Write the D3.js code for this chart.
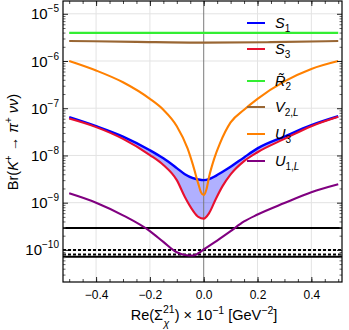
<!DOCTYPE html>
<html>
<head>
<meta charset="utf-8">
<script src="https://cdn.jsdelivr.net/npm/d3@7"></script>
<style>
  body { margin: 0; background: #fff; }
  text { font-family: "Liberation Sans", Arial, sans-serif; fill: #000; }
</style>
</head>
<body>
<svg id="chart" width="349" height="330"></svg>
<script>
// ---- data ----
// S1 and S3 share one x grid (needed for the filled band between them)
const xS   = [-0.5, -0.4, -0.3, -0.2, -0.15, -0.1, -0.07, -0.04, -0.02, 0, 0.02, 0.045, 0.07, 0.1, 0.15, 0.2, 0.3, 0.4, 0.5];
const brS1 = [6.46e-8, 4.17e-8, 2.51e-8, 1.29e-8, 8.7e-9, 5.4e-9, 4.0e-9, 3.3e-9, 3.1e-9, 3.0e-9, 3.15e-9, 3.7e-9, 4.5e-9, 5.75e-9, 9.1e-9, 1.41e-8, 2.51e-8, 4.37e-8, 6.76e-8];
const brS3 = [6.03e-8, 3.98e-8, 2.24e-8, 1.02e-8, 6.3e-9, 3.0e-9, 1.32e-9, 6.8e-10, 5.0e-10, 4.6e-10, 6.0e-10, 1.2e-9, 2.24e-9, 3.98e-9, 7.6e-9, 1.17e-8, 2.24e-8, 4.17e-8, 6.6e-8];

const xR2  = [-0.5, 0.5];
const brR2 = [3.95e-6, 3.95e-6];

const xV2L  = [-0.5, -0.25, 0, 0.25, 0.5];
const brV2L = [2.66e-6, 2.54e-6, 2.45e-6, 2.51e-6, 2.66e-6];

const xU3  = [-0.5, -0.4, -0.3, -0.2, -0.15, -0.1, -0.06, -0.04, -0.02, -0.01, 0, 0.01, 0.02, 0.04, 0.06, 0.1, 0.15, 0.2, 0.3, 0.4, 0.5];
const brU3 = [1.0e-6, 6.3e-7, 3.55e-7, 1.58e-7, 9.3e-8, 4.17e-8, 1.41e-8, 6.3e-9, 2.5e-9, 1.66e-9, 1.45e-9, 1.9e-9, 3.55e-9, 8.9e-9, 1.78e-8, 5.0e-8, 9.3e-8, 1.58e-7, 3.7e-7, 6.8e-7, 1.0e-6];

const xU1L  = [-0.5, -0.4, -0.3, -0.2, -0.15, -0.1, -0.07, -0.04, -0.02, 0, 0.05, 0.1, 0.15, 0.2, 0.3, 0.4, 0.5];
const brU1L = [1.58e-9, 1.0e-9, 5.4e-10, 2.5e-10, 1.48e-10, 8.9e-11, 7.8e-11, 7.6e-11, 8.5e-11, 1.02e-10, 1.58e-10, 2.5e-10, 4.0e-10, 5.6e-10, 9.8e-10, 1.66e-9, 2.45e-9];

// horizontal reference levels (black lines)
const refLevels = [2.9e-10, 1.0e-10, 8.0e-11, 7.2e-11];

const xTickVals = [-0.4, -0.2, 0, 0.2, 0.4];
const yDecades  = [-5, -6, -7, -8, -9, -10];

// legend: [letter, subscript]
const legendLabels = [["S", "1"], ["S", "3"], ["R\u0303", "2"], ["V", "2,L"], ["U", "3"], ["U", "1,L"]];

// ---- layout ----
const svg = d3.select("#chart");
const L = 63, R = 342, T = 1, B = 282;

const x = d3.scaleLinear().domain([-0.523, 0.514]).range([L, R]);
const y = d3.scaleLog().domain([Math.pow(10, -10.68), Math.pow(10, -4.729)]).range([B, T]);

const colors = { S1: "#0000ff", S3: "#e8102e", R2: "#33ee33", V2L: "#996633", U3: "#ff8000", U1L: "#800080" };

svg.append("defs").append("clipPath").attr("id", "plotclip")
  .append("rect").attr("x", L).attr("y", T).attr("width", R - L).attr("height", B - T);

// grid
const grid = svg.append("g");
grid.selectAll("line.gx").data(xTickVals.filter(d => d !== 0)).enter().append("line")
  .attr("x1", d => x(d)).attr("x2", d => x(d)).attr("y1", T).attr("y2", B)
  .attr("stroke", "#e3e3e3").attr("stroke-width", 1);
grid.selectAll("line.gy").data(yDecades).enter().append("line")
  .attr("x1", L).attr("x2", R).attr("y1", d => y(Math.pow(10, d))).attr("y2", d => y(Math.pow(10, d)))
  .attr("stroke", "#e3e3e3").attr("stroke-width", 1);

const plot = svg.append("g").attr("clip-path", "url(#plotclip)");

const toPts = (xs, ys) => xs.map((v, i) => ({ x: v, y: ys[i] }));
const line = d3.line().x(d => x(d.x)).y(d => y(d.y)).curve(d3.curveMonotoneX);

// band between S1 and S3
const band = xS.map((v, i) => ({ x: v, lo: brS3[i], hi: brS1[i] }));
plot.append("path").datum(band)
  .attr("d", d3.area().x(d => x(d.x)).y0(d => y(d.lo)).y1(d => y(d.hi)).curve(d3.curveMonotoneX))
  .attr("fill", "#0000ff").attr("fill-opacity", 0.31);

// zero line
plot.append("line").attr("x1", x(0)).attr("x2", x(0)).attr("y1", T).attr("y2", B)
  .attr("stroke", "#7a7a7a").attr("stroke-width", 1);

// reference lines
plot.selectAll("line.ref").data(refLevels).enter().append("line")
  .attr("x1", L).attr("x2", R)
  .attr("y1", d => y(d)).attr("y2", d => y(d))
  .attr("stroke", "#000").attr("stroke-width", 2)
  .attr("stroke-dasharray", (d, i) => (i === 1 || i === 2) ? "3,2" : null);

const series = [
  { key: "S1", pts: toPts(xS, brS1) },
  { key: "S3", pts: toPts(xS, brS3) },
  { key: "R2", pts: toPts(xR2, brR2) },
  { key: "V2L", pts: toPts(xV2L, brV2L) },
  { key: "U3", pts: toPts(xU3, brU3) },
  { key: "U1L", pts: toPts(xU1L, brU1L) }
];
plot.selectAll("path.curve").data(series).enter().append("path")
  .attr("class", "curve")
  .attr("d", d => line(d.pts))
  .attr("fill", "none")
  .attr("stroke", d => colors[d.key])
  .attr("stroke-width", d => d.key === "S1" ? 2.4 : 2.1);

// ---- axes ----
const minorX = d3.range(-10, 11).map(k => k * 0.05);
const minorY = [];
for (let n = -11; n <= -5; n++) for (let k = 2; k <= 9; k++) {
  const v = k * Math.pow(10, n);
  if (v > y.domain()[0] && v < y.domain()[1]) minorY.push(v);
}
const decadeVals = yDecades.map(d => Math.pow(10, d));

function styleAxis(g, col) {
  g.select(".domain").remove();
  g.selectAll(".tick line").attr("stroke", col);
}

// bottom
svg.append("g").attr("transform", `translate(0,${B})`)
  .call(d3.axisBottom(x).tickValues(minorX).tickSizeInner(-3).tickSizeOuter(0).tickFormat(""))
  .call(g => styleAxis(g, "#444"));
svg.append("g").attr("transform", `translate(0,${B})`)
  .call(d3.axisBottom(x).tickValues(xTickVals).tickSizeInner(-5).tickSizeOuter(0).tickPadding(8)
    .tickFormat(d => d3.format(".1f")(d).replace("-", "\u2212")))
  .call(g => styleAxis(g, "#222"))
  .call(g => g.selectAll("text").attr("font-size", 12).attr("font-family", "Liberation Sans, Arial, sans-serif"));
// top
svg.append("g").attr("transform", `translate(0,${T})`)
  .call(d3.axisTop(x).tickValues(minorX).tickSizeInner(-3).tickSizeOuter(0).tickFormat(""))
  .call(g => styleAxis(g, "#444"));
svg.append("g").attr("transform", `translate(0,${T})`)
  .call(d3.axisTop(x).tickValues(xTickVals).tickSizeInner(-5).tickSizeOuter(0).tickFormat(""))
  .call(g => styleAxis(g, "#222"));
// left
svg.append("g").attr("transform", `translate(${L},0)`)
  .call(d3.axisLeft(y).tickValues(minorY).tickSizeInner(-2.5).tickSizeOuter(0).tickFormat(""))
  .call(g => styleAxis(g, "#666"));
const yAx = svg.append("g").attr("transform", `translate(${L},0)`)
  .call(d3.axisLeft(y).tickValues(decadeVals).tickSizeInner(-5).tickSizeOuter(0).tickPadding(4).tickFormat(""))
  .call(g => styleAxis(g, "#222"));
yAx.selectAll(".tick text").each(function (d) {
  const t = d3.select(this).attr("dy", null).attr("y", 5).attr("font-family", "Liberation Sans, Arial, sans-serif");
  t.append("tspan").attr("font-size", 15).text("10");
  t.append("tspan").attr("font-size", 10).attr("dy", -7)
    .text(d3.format("d")(Math.round(Math.log10(d))).replace("-", "\u2212"));
});
// right
svg.append("g").attr("transform", `translate(${R},0)`)
  .call(d3.axisRight(y).tickValues(minorY).tickSizeInner(-2.5).tickSizeOuter(0).tickFormat(""))
  .call(g => styleAxis(g, "#666"));
svg.append("g").attr("transform", `translate(${R},0)`)
  .call(d3.axisRight(y).tickValues(decadeVals).tickSizeInner(-5).tickSizeOuter(0).tickFormat(""))
  .call(g => styleAxis(g, "#222"));

// frame
svg.append("rect").attr("x", L).attr("y", T).attr("width", R - L).attr("height", B - T)
  .attr("fill", "none").attr("stroke", "#000").attr("stroke-width", 1.2);

// ---- legend ----
const legendY = [23, 49, 81, 107, 134, 161];
const leg = svg.append("g");
series.forEach((s, i) => {
  const g = leg.append("g").attr("transform", `translate(0,${legendY[i]})`);
  g.append("line").attr("x1", 247).attr("x2", 265).attr("y1", 0).attr("y2", 0)
    .attr("stroke", colors[s.key]).attr("stroke-width", 2);
  const t = g.append("text").attr("x", 275).attr("y", 5).attr("font-size", 14.5);
  t.append("tspan").attr("font-style", "italic").text(legendLabels[i][0]);
  const sub = legendLabels[i][1];
  const st = t.append("tspan").attr("font-size", 10).attr("dy", 4);
  if (sub.indexOf(",") >= 0) {
    const parts = sub.split(",");
    st.text(parts[0] + ",");
    t.append("tspan").attr("font-size", 10).attr("font-style", "italic").text(parts[1]);
  } else {
    st.text(sub);
  }
});

// ---- axis titles ----
// stacked super/subscript on Sigma: "21" above, chi below (separate texts)
const xt = svg.append("text").attr("id", "xtitle").attr("x", 204).attr("y", 320).attr("text-anchor", "middle").attr("font-size", 14.5);
xt.append("tspan").text("Re(\u03A3");
xt.append("tspan").attr("font-size", 10.5).attr("dy", -7).text("21");
xt.append("tspan").attr("dy", 7).text(") \u00D7 10");
xt.append("tspan").attr("font-size", 10.5).attr("dy", -6).text("\u22121");
xt.append("tspan").attr("dy", 6).text(" [GeV");
xt.append("tspan").attr("font-size", 10.5).attr("dy", -6).text("\u22122");
xt.append("tspan").attr("dy", 6).text("]");
// place chi under the "21"
const supNode = xt.selectAll("tspan").nodes()[1];
const supBox = supNode.getExtentOfChar(0);
svg.append("text").attr("x", supBox.x + 0.5).attr("y", 326.5)
  .attr("font-size", 10.5).attr("font-style", "italic").text("\u03C7");

const yt = svg.append("text").attr("transform", "translate(17.5,142) rotate(-90)")
  .attr("text-anchor", "middle").attr("font-size", 14.5);
yt.append("tspan").text("Br(");
yt.append("tspan").attr("font-style", "italic").text("K");
yt.append("tspan").attr("font-size", 10).attr("dy", -6).text("+");
yt.append("tspan").attr("dy", 6).text(" \u2192 ");
yt.append("tspan").attr("font-style", "italic").text("\u03C0");
yt.append("tspan").attr("font-size", 10).attr("dy", -6).text("+");
yt.append("tspan").attr("dy", 6).attr("font-style", "italic").text(" \u03BD\u03BD");
yt.append("tspan").text(")");
</script>
</body>
</html>
